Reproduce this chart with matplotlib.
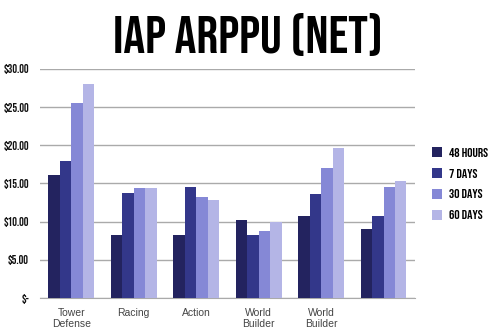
import matplotlib.pyplot as plt
import numpy as np

categories = ['Tower\nDefense', 'Racing', 'Action', 'World\nBuilder', 'World\nBuilder', '']
series = ['48 HOURS', '7 DAYS', '30 DAYS', '60 DAYS']
hours_48 = [16.1, 8.3, 8.2, 10.2, 10.7, 9.0]
days_7 = [18.0, 13.7, 14.6, 8.2, 13.65, 10.7]
days_30 = [25.5, 14.4, 13.2, 8.75, 17.0, 14.6]
days_60 = [28.0, 14.4, 12.8, 10.0, 19.6, 15.3]
yticks = [0, 5, 10, 15, 20, 25, 30]
ytick_labels = ['$-', '$5.00', '$10.00', '$15.00', '$20.00', '$25.00', '$30.00']

colors = ['#23235f', '#33378a', '#8588d6', '#b4b5e6']

fig = plt.figure(figsize=(4.95, 3.33), dpi=100)
ax = fig.add_axes([0.081, 0.105, 0.757, 0.688])

x = np.arange(len(categories))
w = 0.183
for i, vals in enumerate([hours_48, days_7, days_30, days_60]):
    ax.bar(x + (i - 1.5) * w, vals, w, color=colors[i], label=series[i], zorder=3)

ax.set_xlim(-0.5, 5.5)
ax.set_ylim(0, 30)
ax.set_yticks(yticks)
ax.set_yticklabels(ytick_labels, fontsize=8.5, family='Bebas Neue', color='#111111')
ax.yaxis.grid(True, color='#aaaaaa', linewidth=1)
ax.tick_params(axis='y', length=0, pad=8)
ax.set_xticks(x)
ax.set_xticklabels(categories, fontsize=7.5, family='Liberation Sans', color='#444444', linespacing=1.15)
ax.tick_params(axis='x', length=0, pad=7)
for s in ['top', 'right', 'left']:
    ax.spines[s].set_visible(False)
ax.spines['bottom'].set_color('#aaaaaa')

leg = ax.legend(loc='upper left', bbox_to_anchor=(1.015, 0.71), frameon=False,
                handlelength=0.75, handleheight=0.75, handletextpad=0.5,
                labelspacing=0.85, prop=dict(family='Bebas Neue', size=9.5))

fig.text(0.5, 0.895, 'IAP ARPPU (NET)', ha='center', va='center', fontsize=39, family='Bebas Neue')

plt.savefig('out.png', dpi=100)
